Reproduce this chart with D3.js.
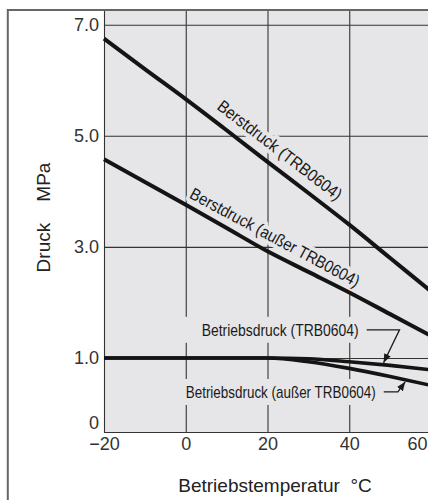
<!DOCTYPE html>
<html>
<head>
<meta charset="utf-8">
<script src="https://cdn.jsdelivr.net/npm/d3@7"></script>
<style>
  body { margin: 0; background: #fff; }
  svg { display: block; font-family: "Liberation Sans", Arial, sans-serif; }
  .axis path { display: none; }
  .axis line { stroke: #333; stroke-width: 1.1; }
  .axis text { fill: #333; font-size: 18px; font-family: "Liberation Sans", Arial, sans-serif; }
  .line { fill: none; stroke: #141414; }
  .label { font-family: "Liberation Sans Narrow", "Liberation Sans", sans-serif; font-size: 17px; fill: #1a1a1a; }
  .halo { stroke: #e6e6e8; stroke-width: 8; stroke-linejoin: round; paint-order: stroke; }
  .title { font-size: 19px; fill: #222; white-space: pre; }
  .leader { fill: none; stroke: #1a1a1a; stroke-width: 1.3; }
</style>
</head>
<body>
<div id="chart"></div>
<script>

// Values (temperature in °C, pressure in MPa)
let temperatures = [-20, -10, 0, 10, 20, 30, 40, 50, 60];
let berstTRB = [6.75, 6.2, 5.66, 5.1, 4.53, 3.97, 3.4, 2.8, 2.2];
let berstAusser = [4.58, 4.17, 3.76, 3.34, 2.92, 2.55, 2.18, 1.79, 1.4];
let betriebTRB = [1.0, 1.0, 1.0, 1.0, 1.0, 0.99, 0.95, 0.9, 0.84];
let betriebAusser = [1.0, 1.0, 1.0, 1.0, 1.0, 0.95, 0.86, 0.75, 0.63];

let xTicks = [-20, 0, 20, 40, 60];
let yTicks = [0, 1, 3, 5, 7];

let berstLabels = ["Berstdruck (TRB0604)", "Berstdruck (außer TRB0604)"];
let berstLabelTemps = [20.5, 20];

let betriebLabels = ["Betriebsdruck (TRB0604)", "Betriebsdruck (außer TRB0604)"];
let betriebLabelTemps = [3.9, 0];
let betriebLabelPressures = [1.4, 0.46];
let leaderKneeTemps = [52.3, 51.9];
let leaderTipTemps = [48.4, 53.7];

function chartOne(width, height, selector) {

	let margin = { top: 10, left: 104, right: -3, bottom: 68 };
	let chartHeight = height - margin.top - margin.bottom;
	let chartWidth = width - margin.left - margin.right;

	let xPositionScale = d3.scaleLinear()
		.domain([-20, 60])
		.range([0, chartWidth]);

	// the 0..1 band is stretched in the original drawing
	let yPositionScale = d3.scaleLinear()
		.domain([0, 1, 7])
		.range([chartHeight, chartHeight - 74, 14.7]);

	let series = [
		{ name: "berstTRB", values: berstTRB, width: 4 },
		{ name: "berstAusser", values: berstAusser, width: 4 },
		{ name: "betriebTRB", values: betriebTRB, width: 3.6 },
		{ name: "betriebAusser", values: betriebAusser, width: 3.6 }
	];

	let line = d3.line()
		.curve(d3.curveMonotoneX)
		.x((d, i) => xPositionScale(temperatures[i]))
		.y(d => yPositionScale(d));

	let svg = d3.select(selector)
		.append("svg")
		.attr("width", width)
		.attr("height", height);

	svg.append("defs").append("marker")
		.attr("id", "arrow")
		.attr("viewBox", "0 -5 10 10")
		.attr("refX", 10)
		.attr("refY", 0)
		.attr("markerUnits", "userSpaceOnUse")
		.attr("markerWidth", 9)
		.attr("markerHeight", 9)
		.attr("orient", "auto")
		.append("path")
		.attr("d", "M0,-4L10,0L0,4Z")
		.attr("fill", "#1a1a1a");

	let chart = svg.append("g")
		.attr("transform", "translate(" + margin.left + "," + margin.top + ")");

	// grey plot background
	chart.append("rect")
		.attr("x", 0)
		.attr("y", 0)
		.attr("width", chartWidth)
		.attr("height", chartHeight)
		.attr("fill", "#e6e6e8");

	// grid + axes
	let xAxis = d3.axisBottom(xPositionScale)
		.tickValues(xTicks)
		.tickSize(-chartHeight)
		.tickPadding(5);

	chart.append("g")
		.attr("class", "axis x-axis")
		.attr("transform", "translate(0," + chartHeight + ")")
		.call(xAxis);

	let yAxis = d3.axisLeft(yPositionScale)
		.tickValues(yTicks)
		.tickSize(-chartWidth)
		.tickPadding(5)
		.tickFormat(d => d === 0 ? "0" : d3.format(".1f")(d));

	chart.append("g")
		.attr("class", "axis y-axis")
		.call(yAxis);

	// "0" sits on the axis line, "60" is pulled in
	chart.selectAll(".y-axis .tick text")
		.filter(d => d === 0)
		.attr("dy", "-0.2em");
	chart.selectAll(".x-axis .tick text")
		.filter(d => d === 60)
		.attr("dx", -14);

	// labels on the burst lines
	berstLabels.forEach((text, k) => {
		let values = series[k].values;
		let t = berstLabelTemps[k];
		let i = temperatures.indexOf(20);
		let dx = xPositionScale(temperatures[i + 1]) - xPositionScale(temperatures[i - 1]);
		let dy = yPositionScale(values[i + 1]) - yPositionScale(values[i - 1]);
		let angle = Math.atan2(dy, dx) * 180 / Math.PI;
		let v = values[i] + (values[i + 1] - values[i]) * (t - 20) / 10;
		chart.append("text")
			.attr("class", "label halo")
			.attr("transform", "translate(" + xPositionScale(t) + "," + yPositionScale(v) + ") rotate(" + angle + ")")
			.attr("text-anchor", "middle")
			.attr("y", k === 0 ? -11 : -10)
			.attr("textLength", k === 0 ? 152 : 190)
			.attr("lengthAdjust", "spacingAndGlyphs")
			.text(text);
	});

	// boxed labels for the working pressure lines
	betriebLabels.forEach((text, k) => {
		let g = chart.append("g");
		let box = g.append("rect").attr("fill", "#e6e6e8");
		let label = g.append("text")
			.attr("class", "label")
			.attr("x", xPositionScale(betriebLabelTemps[k]))
			.attr("y", yPositionScale(betriebLabelPressures[k]))
			.attr("textLength", k === 0 ? 157 : 190)
			.attr("lengthAdjust", "spacingAndGlyphs")
			.text(text);
		let bb = label.node().getBBox();
		box.attr("x", bb.x - 17)
			.attr("y", bb.y - 4)
			.attr("width", bb.width + 26)
			.attr("height", bb.height + 7);
	});

	// the curves
	chart.selectAll(".line")
		.data(series)
		.enter()
		.append("path")
		.attr("class", "line")
		.attr("stroke-width", d => d.width)
		.attr("d", d => line(d.values));

	// leader lines with arrows
	let curves = [betriebTRB, betriebAusser];
	betriebLabels.forEach((text, k) => {
		let values = curves[k];
		let t = leaderTipTemps[k];
		let i = Math.floor((t + 20) / 10);
		let v = values[i] + (values[i + 1] - values[i]) * (t - temperatures[i]) / 10;
		let yLabel = yPositionScale(betriebLabelPressures[k]) - 6;
		let xStart = xPositionScale(betriebLabelTemps[k]) + (k === 0 ? 157 : 190) + 8;
		let tipY = yPositionScale(v) + (k === 0 ? -2 : 2);
		chart.append("path")
			.attr("class", "leader")
			.attr("marker-end", "url(#arrow)")
			.attr("d", "M" + xStart + "," + yLabel
				+ "H" + xPositionScale(leaderKneeTemps[k])
				+ "L" + xPositionScale(t) + "," + tipY);
	});

	// outer frame
	svg.append("rect")
		.attr("x", 7.8)
		.attr("y", margin.top)
		.attr("width", width + 20)
		.attr("height", height + 20)
		.attr("fill", "none")
		.attr("stroke", "#666")
		.attr("stroke-width", 2);

	// axis titles
	svg.append("text")
		.attr("class", "title")
		.attr("transform", "translate(50," + 217.5 + ") rotate(-90)")
		.attr("text-anchor", "middle")
		.text("Druck    MPa");

	svg.append("text")
		.attr("class", "title")
		.attr("x", 275)
		.attr("y", 491.5)
		.attr("text-anchor", "middle")
		.text("Betriebstemperatur  °C");
}

chartOne(428, 500, "#chart");
</script>
</body>
</html>
